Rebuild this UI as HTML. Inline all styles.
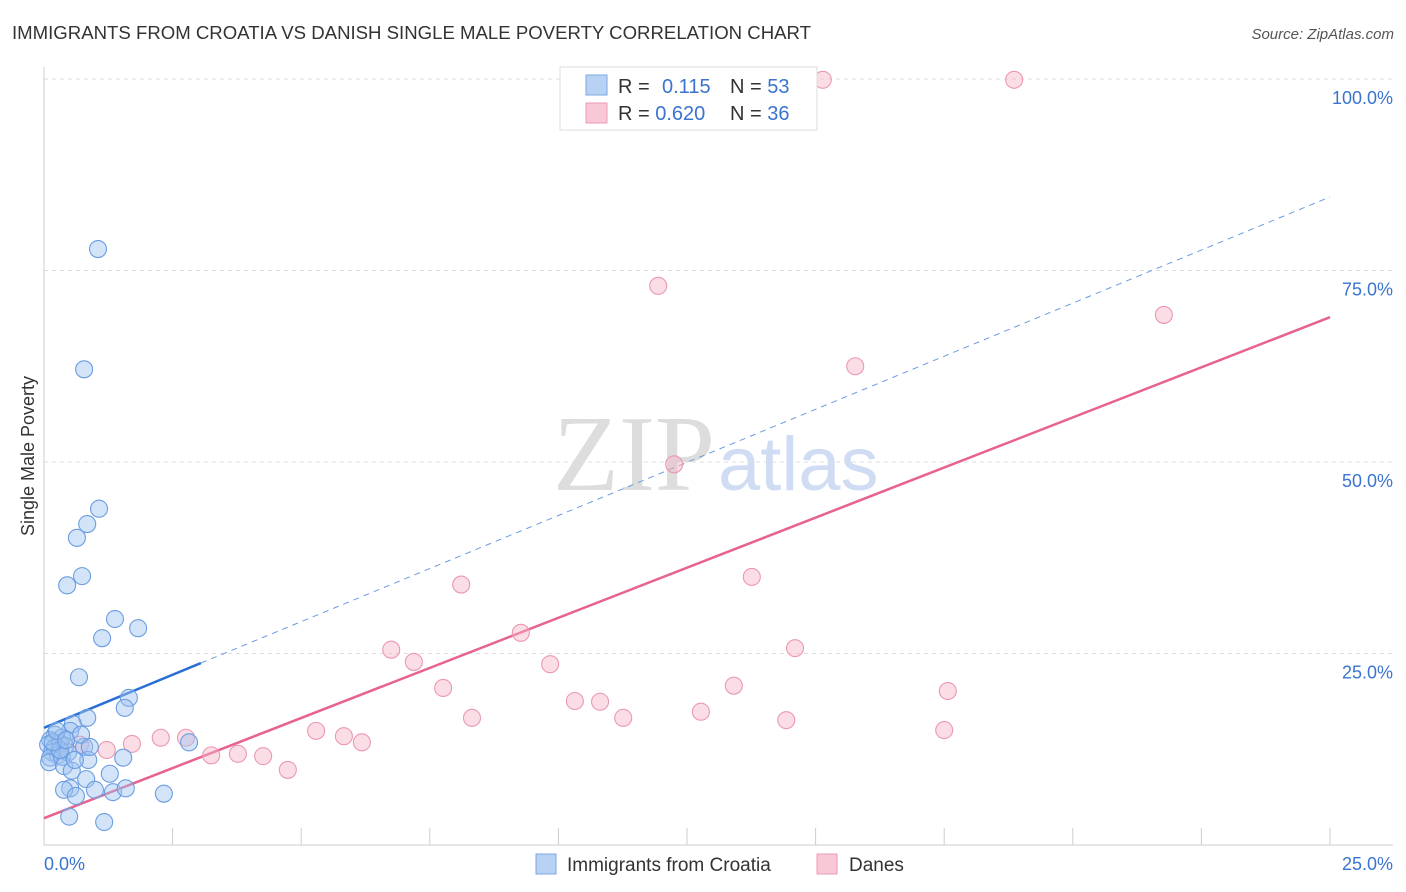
<!DOCTYPE html>
<html><head><meta charset="utf-8"><style>
body{margin:0;background:#fff;font-family:"Liberation Sans",sans-serif;}
svg{display:block}
</style></head><body>
<svg id="chart" width="1406" height="892">
<text x="12" y="39" font-size="18.6" fill="#333">IMMIGRANTS FROM CROATIA VS DANISH SINGLE MALE POVERTY CORRELATION CHART</text>
<text x="1394" y="39" font-size="15" fill="#555" font-style="italic" text-anchor="end">Source: ZipAtlas.com</text>
<text x="553" y="490" font-size="108" fill="#ddd" font-family="Liberation Serif,serif">ZIP</text>
<text x="718" y="490" font-size="76" fill="#cfdcf3">atlas</text>
<text transform="translate(34,456) rotate(-90)" font-size="18" fill="#333" text-anchor="middle">Single Male Poverty</text>
<g id="grid"></g><g id="axes"></g><g id="lines"></g><g id="points"></g>
<g>
<rect x="560" y="67" width="257" height="63" fill="#fff" stroke="#ddd"/>
<rect x="586" y="75" width="21" height="20" fill="#b8d2f3" stroke="#7aa7e3"/>
<rect x="586" y="103" width="21" height="20" fill="#f9c8d6" stroke="#ec9ab4"/>
<text x="618" y="93" font-size="20" fill="#333">R = <tspan x="662" fill="#3a74d0">0.115</tspan><tspan x="730" fill="#333">N = </tspan><tspan fill="#3a74d0">53</tspan></text>
<text x="618" y="120" font-size="20" fill="#333">R = <tspan fill="#3a74d0">0.620</tspan><tspan x="730" fill="#333">N = </tspan><tspan fill="#3a74d0">36</tspan></text>
</g>
<g>
<rect x="536" y="854" width="20" height="20" fill="#b8d2f3" stroke="#7aa7e3"/>
<text x="567" y="871" font-size="19" fill="#333">Immigrants from Croatia</text>
<rect x="817" y="854" width="20" height="20" fill="#f9c8d6" stroke="#ec9ab4"/>
<text x="849" y="871" font-size="19" fill="#333">Danes</text>
</g>
</svg>
<script>
const blueX=[1.05,0.78,1.07,0.84,0.64,0.74,0.45,1.38,1.83,1.13,0.68,1.65,1.57,2.82,0.84,0.56,0.51,0.21,0.35,0.12,0.08,0.21,0.31,0.41,0.16,0.27,0.12,0.10,0.35,0.47,0.78,0.72,0.86,0.39,0.54,1.28,1.54,0.82,0.51,0.99,0.39,0.62,1.34,1.59,2.33,0.49,1.17,0.31,0.17,0.25,0.43,0.60,0.89];
const blueY=[77.8,62.1,43.9,41.9,40.1,35.1,33.9,29.5,28.3,27.0,21.9,19.2,17.9,13.4,16.6,15.8,14.9,14.4,14.0,13.7,13.1,12.7,13.3,12.9,12.1,11.7,11.4,10.8,11.5,12.1,12.8,14.4,11.1,10.3,9.7,9.3,11.4,8.6,7.4,7.2,7.2,6.4,6.9,7.4,6.7,3.7,3.0,12.4,13.4,14.9,13.7,11.1,12.8];
const pinkX=[15.14,18.86,11.94,21.77,15.77,12.25,8.11,13.76,9.27,6.75,14.60,7.19,9.84,7.76,13.41,17.57,10.32,10.81,8.32,11.26,12.77,14.43,5.29,5.83,6.18,17.50,2.27,2.76,1.71,1.22,3.25,3.77,4.26,4.74,0.70,0.31];
const pinkY=[99.9,99.9,73.0,69.2,62.5,49.7,34.0,35.0,27.7,25.5,25.7,23.9,23.6,20.5,20.8,20.1,18.8,18.7,16.6,16.6,17.4,16.3,14.9,14.2,13.4,15.0,14.0,14.0,13.2,12.4,11.7,11.9,11.6,9.8,13.1,12.7];
const blueTrend=[15.3,84.6]; // y at x=0, y at x=25
const pinkTrend=[3.5,68.9];
const yTicks=[25,50,75,100];
const yTickLabels=["25.0%","50.0%","75.0%","100.0%"];
const xTicks=[2.5,5,7.5,10,12.5,15,17.5,20,22.5,25];

const NS="http://www.w3.org/2000/svg";
const X=v=>44+v/25*1286, Y=v=>845-v/100*766;
function mk(parent,tag,attrs){const e=document.createElementNS(NS,tag);for(const k in attrs)e.setAttribute(k,attrs[k]);document.getElementById(parent).appendChild(e);return e;}
yTicks.forEach((t,i)=>{
 const l=mk('grid','line',{x1:44,x2:1393,y1:Y(t),y2:Y(t),stroke:'#ddd','stroke-dasharray':'4,4'});
 
 
 const tx=mk('grid','text',{x:1393,y:Y(t)+25,'font-size':18,fill:'#3a74d0','text-anchor':'end'});
 tx.textContent=yTickLabels[i];
 
 
});
const ya=mk('axes','line',{x1:44,x2:44,y1:67,y2:845,stroke:'#ccc'});


const xa=mk('axes','line',{x1:44,x2:1393,y1:845,y2:845,stroke:'#ccc'});


xTicks.forEach(t=>{
 const l=mk('axes','line',{x1:X(t),x2:X(t),y1:828,y2:845,stroke:'#ccc'});
 
 
});
const x0=mk('axes','text',{x:44,y:870,'font-size':18,fill:'#3a74d0'});x0.textContent='0.0%';


const x1=mk('axes','text',{x:1393,y:870,'font-size':18,fill:'#3a74d0','text-anchor':'end'});x1.textContent='25.0%';



const bSolidEnd=3.05;
const bs=mk('lines','line',{x1:X(0),y1:Y(blueTrend[0]),x2:X(bSolidEnd),y2:Y(blueTrend[0]+(blueTrend[1]-blueTrend[0])*bSolidEnd/25),stroke:'#2a6fd6','stroke-width':2.5});


const bd=mk('lines','line',{x1:X(bSolidEnd),y1:Y(blueTrend[0]+(blueTrend[1]-blueTrend[0])*bSolidEnd/25),x2:X(25),y2:Y(blueTrend[1]),stroke:'#6b9be0','stroke-width':1,'stroke-dasharray':'6,5'});


const pl=mk('lines','line',{x1:X(0),y1:Y(pinkTrend[0]),x2:X(25),y2:Y(pinkTrend[1]),stroke:'#e8628e','stroke-width':2.5});



pinkX.forEach((v,i)=>{
 const c=mk('points','circle',{cx:X(v),cy:Y(pinkY[i]),r:8.5,fill:'rgba(246,180,200,0.45)',stroke:'#eb98b3','stroke-width':1.1});
 
 
});
blueX.forEach((v,i)=>{
 const c=mk('points','circle',{cx:X(v),cy:Y(blueY[i]),r:8.5,fill:'rgba(160,196,240,0.45)',stroke:'#6a9de2','stroke-width':1.1});
 
 
});
</script>
</body></html>
